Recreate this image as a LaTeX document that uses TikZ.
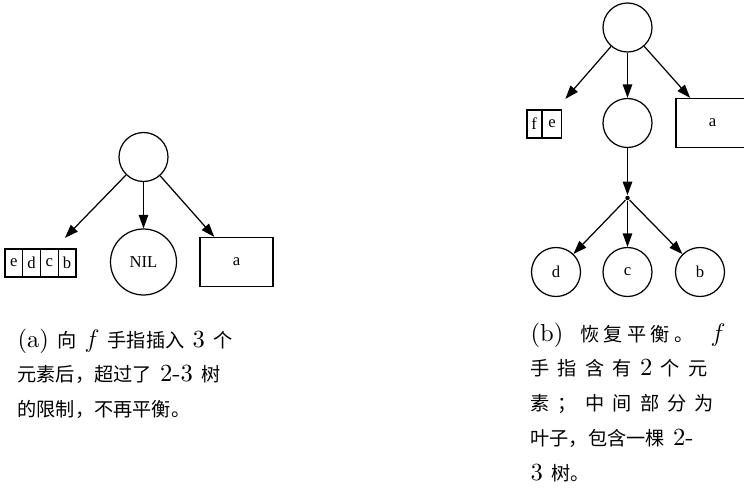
\documentclass[tikz,border=0pt]{standalone}
\usepackage{fontspec}
\setmainfont{lmroman10-regular.otf}[ItalicFont=lmroman10-italic.otf, BoldFont=lmroman10-bold.otf]
\newfontfamily\cjk[Scale=0.78]{Noto Sans CJK SC}
\newfontfamily\gvfont{Liberation Serif}
\usepackage{tikz}
\usetikzlibrary{arrows.meta, positioning}
\newcommand\zh[1]{{\cjk #1}}
\newcommand\cjkgap{\hskip 0pt plus 2pt}
\newcommand\latgap{\hskip 0.25em plus 5pt}

\begin{document}
\begin{tikzpicture}[
    x=0.02cm, y=-0.02cm,
    line width=0.7pt,
    >={Triangle[length=0.27cm, width=0.19cm]},
    knot/.style={draw, circle, minimum size=0.98cm, inner sep=0pt, font=\gvfont\fontsize{9.5}{11}\selectfont},
    nilknot/.style={knot, minimum size=1.32cm},
    leaf/.style={draw, rectangle, minimum width=1.46cm, minimum height=0.98cm, inner sep=0pt, font=\gvfont\fontsize{9.5}{11}\selectfont},
    hub/.style={rectangle, minimum width=1.46cm, minimum height=0.98cm, inner sep=0pt},
    cell/.style={draw, rectangle, minimum width=0.355cm, minimum height=0.56cm, inner sep=0pt, font=\gvfont\fontsize{9.5}{11}\selectfont},
    junction/.style={circle, fill, inner sep=0pt, minimum size=0.09cm},
    caption/.style={anchor=base west, align=left, inner sep=0pt, font=\fontsize{14}{19.8}\selectfont}
]
\useasboundingbox (0,0) rectangle (744,501);

% ==================== (a) UNBALANCED ====================
\node[knot] (rootA) at (143.5,157) {};
\node[hub] (hubA) at (40.5,263) {};
\foreach \l [count=\i] in {e,d,c,b} {
    \node[cell] (cellA\i) at ({5+17.75*(\i-0.5)},263) {\l};
}
\node[nilknot] (nilA) at (143.5,262) {NIL};
\node[leaf] (leafA) at (236.5,262) {a};

\draw[->] (rootA) -- (hubA);
\draw[->] (rootA) -- (nilA);
\draw[->] (rootA) -- (leafA);

\node[caption, text width=4.62cm] (capA) at (17,347) {
    \makebox[\linewidth][s]{(a) \zh{向} $f$ \zh{手指插入} 3 \zh{个}}\\
    \makebox[\linewidth][s]{\zh{元素后，超过了} 2-3 \zh{树}}\\
    \zh{的限制，不再平衡。}
};

% ==================== (b) REBALANCED ====================
\node[knot] (rootB) at (627.5,27.5) {};
\node[hub] (hubB) at (543.5,124) {};
\node[cell, minimum width=0.29cm] (cellBf) at (534.25,124) {f};
\node[cell, minimum width=0.37cm, right=0pt of cellBf] (cellBe) {e};
\node[knot] (midB) at (627.5,123) {};
\node[leaf] (leafB) at (712.5,123) {a};
\node[junction] (dotB) at (627.5,198) {};
\foreach \l/\xpos in {d/556, c/627.5, b/700} {
    \node[knot] (leafB\l) at (\xpos,272) {\l};
    \draw[->] (dotB) -- (leafB\l);
}

\draw[->] (rootB) -- (hubB);
\draw[->] (rootB) -- (midB);
\draw[->] (rootB) -- (leafB);
\draw[->] (midB) -- (dotB);

\node[caption, text width=3.9cm] (capB) at (530,341) {
    \makebox[\linewidth][s]{(b)\latgap\zh{恢}\cjkgap\zh{复}\cjkgap\zh{平}\cjkgap\zh{衡}\cjkgap\zh{。}\latgap$f$}\\
    \makebox[\linewidth][s]{\zh{手 指 含 有} 2 \zh{个 元}}\\
    \makebox[\linewidth][s]{\zh{素 ； 中 间 部 分 为}}\\
    \makebox[\linewidth][s]{\zh{叶子，包含一棵} 2-}\\
    3 \zh{树。}
};

\end{tikzpicture}
\end{document}
